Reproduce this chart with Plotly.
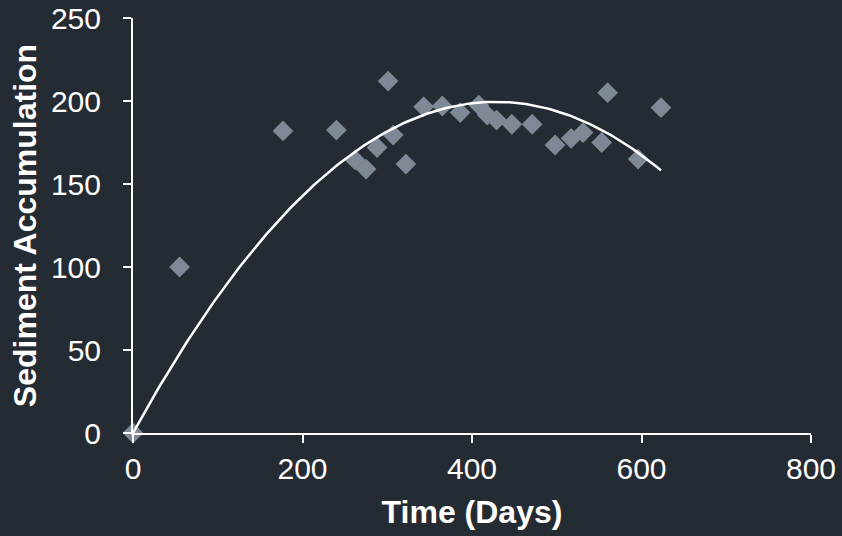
import numpy as np
import plotly.graph_objects as go

days = [0, 55, 177, 240, 262, 275, 288, 301, 307, 322, 343, 365, 386, 408, 418, 429,
        447, 471, 498, 517, 531, 553, 560, 596, 623]
sediment = [0, 100, 182, 182.5, 164.5, 159, 172, 212, 179.5, 162, 196.5, 197, 193, 197.5, 191.5, 188.5,
            186, 186, 173.5, 177.5, 181, 175, 205, 165, 196]

x_ticks = [0, 200, 400, 600, 800]
y_ticks = [0, 50, 100, 150, 200, 250]

# Quadratic trend through origin, fitted to the data
xa = np.array(days, dtype=float)
ya = np.array(sediment, dtype=float)
A = np.vstack([xa**2, xa]).T
coef, *_ = np.linalg.lstsq(A, ya, rcond=None)
xfit = np.linspace(0, max(days), 200)
yfit = coef[0] * xfit**2 + coef[1] * xfit

bg = "#252b33"
fig = go.Figure()
fig.add_trace(go.Scatter(x=days, y=sediment, mode="markers",
                         marker=dict(symbol="diamond", size=16, color="#7f8896"),
                         showlegend=False, cliponaxis=False))
fig.add_trace(go.Scatter(x=xfit, y=yfit, mode="lines",
                         line=dict(color="white", width=2.5), showlegend=False))

fam = "Liberation Sans, Arial, sans-serif"
fig.update_layout(
    width=842, height=536,
    paper_bgcolor=bg, plot_bgcolor=bg,
    margin=dict(l=133, r=31, t=18, b=103),
    font=dict(family=fam, color="white", size=30),
    xaxis=dict(range=[0, 800], tickvals=x_ticks, showgrid=False, zeroline=False,
               automargin=False,
               showline=True, linecolor="white", linewidth=2, ticks="outside",
               ticklen=8, tickwidth=2, tickcolor="white",
               tickfont=dict(size=30, color="white"),
               title=dict(text="<b>Time (Days)</b>", font=dict(size=32, color="white"), standoff=17)),
    yaxis=dict(range=[0, 250], tickvals=y_ticks, showgrid=False, zeroline=False,
               automargin=False, ticklabelstandoff=16,
               showline=True, linecolor="white", linewidth=2, ticks="outside",
               ticklen=8, tickwidth=2, tickcolor="white",
               tickfont=dict(size=30, color="white"),
               title=dict(text="<b>Sediment Accumulation</b>", font=dict(size=32, color="white"), standoff=5)),
)
fig.write_html("out.html", config={"displayModeBar": False},
               post_script="document.body.style.margin='0px';")
